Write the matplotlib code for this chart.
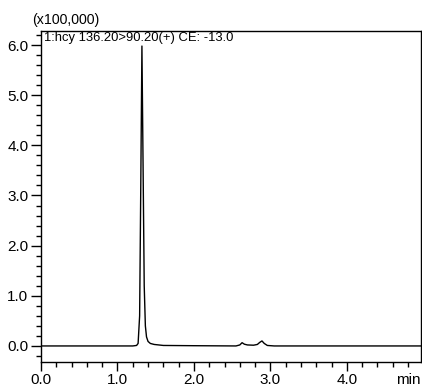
import matplotlib
matplotlib.use("Agg")
import matplotlib.pyplot as plt
from matplotlib.ticker import MultipleLocator

plt.rcParams['font.family'] = ['Liberation Sans', 'DejaVu Sans']

# chromatogram trace (time in min, intensity x100,000)
time_min = [0.0, 1.20, 1.25, 1.27, 1.29, 1.305, 1.32, 1.335, 1.35, 1.365, 1.38,
            1.40, 1.43, 1.48, 1.60, 2.00, 2.55, 2.60, 2.63, 2.66, 2.70, 2.78,
            2.83, 2.86, 2.89, 2.92, 2.96, 3.05, 4.97]
intensity = [0.0, 0.0, 0.01, 0.05, 0.6, 3.2, 5.98, 3.6, 1.2, 0.4, 0.18,
             0.09, 0.05, 0.03, 0.01, 0.005, 0.0, 0.02, 0.065, 0.035, 0.02, 0.015,
             0.03, 0.07, 0.10, 0.05, 0.01, 0.0, 0.0]

x_ticks = [0.0, 1.0, 2.0, 3.0, 4.0]
x_tick_labels = ["0.0", "1.0", "2.0", "3.0", "4.0"]
y_ticks = [0.0, 1.0, 2.0, 3.0, 4.0, 5.0, 6.0]
y_tick_labels = ["0.0", "1.0", "2.0", "3.0", "4.0", "5.0", "6.0"]
title_text = "1:hcy 136.20>90.20(+) CE: -13.0"
scale_text = "(x100,000)"
x_unit = "min"

fig = plt.figure(figsize=(4.22, 3.89), dpi=100)
ax = fig.add_axes([41/422, 27/389, 380/422, 331/389])

ax.plot(time_min, intensity, color='black', lw=1.0)

ax.set_xlim(0.0, 4.97)
ax.set_ylim(-0.32, 6.28)
ax.set_xticks(x_ticks)
ax.set_xticklabels(x_tick_labels)
ax.set_yticks(y_ticks)
ax.set_yticklabels(y_tick_labels)
ax.xaxis.set_minor_locator(MultipleLocator(0.2))
ax.yaxis.set_minor_locator(MultipleLocator(0.2))
ax.tick_params(which='major', direction='out', length=6.5, width=1, labelsize=11, pad=1.5)
ax.tick_params(which='minor', direction='out', length=3.3, width=1)
ax.tick_params(axis='y', which='major', length=7.5, pad=1.5)

for s in ax.spines.values():
    s.set_linewidth(1.0)
    s.set_color('black')

ax.text(0.008, 0.998, title_text, transform=ax.transAxes, ha='left', va='top',
        fontsize=9.4)
fig.text(32/422, 1 - 13/389, scale_text, ha='left', va='top', fontsize=10.2)
ax.text(1.0, -0.033, x_unit, transform=ax.transAxes, ha='right', va='top', fontsize=11)

fig.savefig("out.png", dpi=100)
